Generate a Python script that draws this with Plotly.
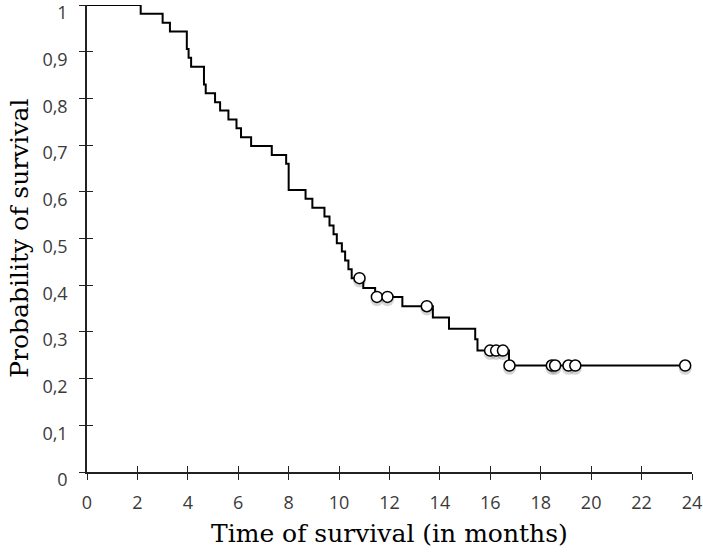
import plotly.graph_objects as go

# Kaplan-Meier step curve (time in months, survival probability)
step_times = [0, 2.13, 3.0, 3.29, 3.96, 4.03, 4.13, 4.64, 4.71, 5.08, 5.28, 5.61,
              5.93, 6.11, 6.51, 7.33, 7.90, 8.0, 8.67, 8.94, 9.42, 9.62, 9.78,
              9.91, 10.11, 10.24, 10.37, 10.5, 10.96, 11.43, 12.51, 13.72, 14.36,
              15.40, 15.49, 16.74, 23.73]
step_surv = [1.0, 0.981, 0.962, 0.943, 0.906, 0.887, 0.868, 0.830, 0.811, 0.792,
             0.774, 0.755, 0.736, 0.717, 0.698, 0.679, 0.660, 0.604, 0.585, 0.566,
             0.547, 0.528, 0.509, 0.490, 0.472, 0.453, 0.434, 0.415, 0.394, 0.375,
             0.355, 0.331, 0.307, 0.284, 0.260, 0.228, 0.228]

# Censored observations
cens_times = [10.81, 11.5, 11.92, 13.48, 15.99, 16.23, 16.5, 16.76, 18.44, 18.57,
              19.1, 19.37, 23.73]
cens_surv = [0.415, 0.375, 0.375, 0.355, 0.260, 0.260, 0.260, 0.228, 0.228, 0.228,
             0.228, 0.228, 0.228]

x_ticks = list(range(0, 25, 2))
x_tick_labels = [str(v) for v in x_ticks]
y_ticks = [i / 10 for i in range(11)]
y_tick_labels = ["0", "0,1", "0,2", "0,3", "0,4", "0,5", "0,6", "0,7", "0,8", "0,9", "1"]

x_title = "Time of survival (in months)"
y_title = "Probability of survival"

fig = go.Figure()
fig.add_trace(go.Scatter(x=step_times, y=step_surv, mode="lines",
                         line=dict(shape="hv", color="black", width=2),
                         hoverinfo="skip", showlegend=False))
# soft shadow under censor marks
fig.add_trace(go.Scatter(x=cens_times, y=[s - 0.006 for s in cens_surv], mode="markers",
                         marker=dict(size=13, color="rgba(0,0,0,0.16)", line=dict(width=0)),
                         hoverinfo="skip", showlegend=False))
fig.add_trace(go.Scatter(x=cens_times, y=cens_surv, mode="markers",
                         marker=dict(size=11, color="white", line=dict(color="black", width=1.5)),
                         showlegend=False))
# dummy trace for the overlay axes (inner half of crossing ticks)
fig.add_trace(go.Scatter(x=[0], y=[0], xaxis="x2", yaxis="y2", mode="markers",
                         marker=dict(opacity=0), hoverinfo="skip", showlegend=False))

tick_font = dict(family="'Open Sans', sans-serif", size=18, color="#3a3a3a")
title_font = dict(family="'DejaVu Serif', serif", size=25, color="black")

fig.update_layout(
    width=703, height=553,
    margin=dict(l=87, r=11, t=5, b=81),
    plot_bgcolor="white", paper_bgcolor="white",
    xaxis=dict(range=[0, 24], tickvals=x_ticks, ticktext=x_tick_labels,
               ticks="outside", ticklen=6, tickwidth=1.3, tickcolor="#222",
               showline=True, linecolor="#222", linewidth=1.5, showgrid=False,
               zeroline=False, tickfont=tick_font, automargin=False,
               ticklabelstandoff=8, ticklabeloverflow="allow"),
    yaxis=dict(range=[0, 1], tickvals=y_ticks, ticktext=y_tick_labels,
               ticks="outside", ticklen=6, tickwidth=1.3, tickcolor="#222",
               showline=True, linecolor="#222", linewidth=1.5, showgrid=False,
               zeroline=False, tickfont=tick_font, automargin=False,
               ticklabelstandoff=8, ticklabelshift=8, ticklabeloverflow="allow"),
    xaxis2=dict(range=[0, 24], overlaying="x", anchor="y2", tickvals=x_ticks,
                ticks="inside", ticklen=6, tickwidth=1.3, tickcolor="#222",
                showticklabels=False, showgrid=False, zeroline=False, showline=False,
                side="bottom", automargin=False),
    yaxis2=dict(range=[0, 1], overlaying="y", anchor="x2", tickvals=y_ticks,
                ticks="inside", ticklen=6, tickwidth=1.3, tickcolor="#222",
                showticklabels=False, showgrid=False, zeroline=False, showline=False,
                side="left", automargin=False),
    annotations=[
        dict(text=x_title, xref="paper", yref="paper", x=0.5, y=-0.131,
             xanchor="center", yanchor="middle", showarrow=False, font=title_font),
        dict(text=y_title, xref="paper", yref="paper", x=-0.112, y=0.5,
             xanchor="center", yanchor="middle", showarrow=False, font=title_font,
             textangle=-90),
    ],
)

fig.write_html("out.html", config={"displayModeBar": False},
               post_script="document.body.style.margin='0';")
